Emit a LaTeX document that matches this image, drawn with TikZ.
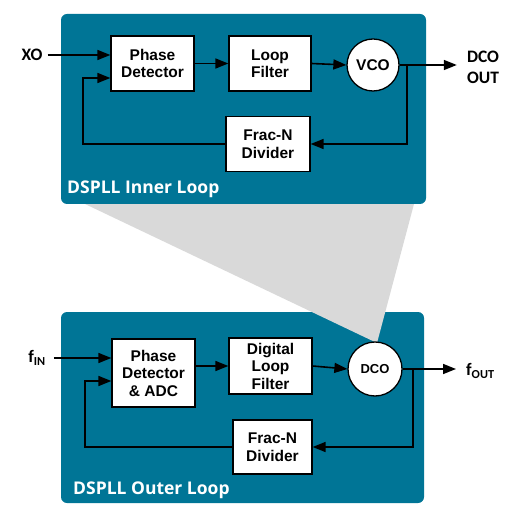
\documentclass[tikz,border=0pt]{standalone}
\usepackage{fontspec}
\setmainfont{Liberation Sans}
\newfontfamily\lblfont{Carlito}
\newfontfamily\ttlfont{Open Sans}
\usetikzlibrary{arrows.meta,calc}
\definecolor{teal1}{RGB}{0,117,150}
\definecolor{wedge}{RGB}{217,217,217}
\begin{document}
\begin{tikzpicture}[x=1pt,y=-1pt,
  panel/.style={fill=teal1,rounded corners=6pt,draw=none},
  blk/.style={draw=black,fill=white,line width=1.3pt,inner sep=0pt,align=center,
    font=\fontsize{15.5}{17.5}\selectfont\bfseries},
  osc/.style={draw=black,fill=white,line width=1.3pt,circle,inner sep=0pt,
    font=\fontsize{15.5}{17.5}\selectfont\bfseries},
  lbl/.style={inner sep=0pt,align=center,font=\lblfont\fontsize{17.5}{21}\selectfont\bfseries},
  ttl/.style={inner sep=0pt,anchor=west,text=white,font=\ttlfont\fontsize{17.5}{20}\selectfont\bfseries},
  arr/.style={line width=1.6pt,-{Triangle[length=13pt,width=10pt]}},
  ln/.style={line width=1.6pt}]
\useasboundingbox (0,0) rectangle (529,526);
% panels and wedge
\fill[panel] (61,312) rectangle (424,503);
\fill[wedge] (85,204) -- (414,204) -- (377,343) -- cycle;
\fill[panel] (61,14) rectangle (426,204);
% inner loop
\node[blk,minimum width=83pt,minimum height=55pt] (pd1) at (152.5,63.5) {Phase\\Detector};
\node[blk,minimum width=82pt,minimum height=55pt] (lf1) at (270,63.5) {Loop\\Filter};
\node[osc,minimum size=52pt] (vco) at (373,65) {VCO};
\node[blk,minimum width=84pt,minimum height=55pt] (fn1) at (268,144) {Frac-N\\Divider};
\node[lbl] (xo) at (32,55) {XO};
\node[lbl] (dout) at (483,67) {DCO\\OUT};
\node[ttl] (t1) at (67,189) {DSPLL Inner Loop};
\coordinate (tap1) at (407,65);
\coordinate (fb1) at (83,78);
\draw[arr,shorten <=5pt] (xo.east) -- (xo.east -| pd1.west);
\draw[arr] (pd1.east) -- (lf1.west);
\draw[arr] (lf1.east) -- (vco.west);
\draw[arr,shorten >=10pt] (vco.east) -- (vco.east -| dout.west);
\draw[arr] (tap1) |- (fn1.east);
\draw[arr] (fn1.west) -| (fb1) -- (fb1 -| pd1.west);
% outer loop
\node[blk,minimum width=83pt,minimum height=68pt] (pd2) at (153.5,373) {Phase\\Detector\\\& ADC};
\node[blk,minimum width=83pt,minimum height=56pt] (dlf) at (270.5,366) {Digital\\Loop\\Filter};
\node[osc,minimum size=54pt,font=\fontsize{13}{15}\selectfont\bfseries] (dco) at (375,369) {DCO};
\node[blk,minimum width=79pt,minimum height=54pt] (fn2) at (272.5,447) {Frac-N\\Divider};
\node[lbl] (fin) at (37,358) {f\textsubscript{IN}};
\node[lbl,anchor=west] (fout) at (466,371) {f\textsubscript{OUT}};
\node[ttl] (t2) at (73,490) {DSPLL Outer Loop};
\coordinate (tap2) at (413,369);
\coordinate (fb2) at (85,381);
\draw[arr,shorten <=8pt] (fin.east) -- (fin.east -| pd2.west);
\draw[arr] (dlf.west -| pd2.east) -- (dlf.west);
\draw[arr] (dlf.east) -- (dco.west);
\draw[arr,shorten >=10pt] (dco.east) -- (dco.east -| fout.west);
\draw[arr] (tap2) |- (fn2.east);
\draw[arr] (fn2.west) -| (fb2) -- (fb2 -| pd2.west);
\end{tikzpicture}
\end{document}
